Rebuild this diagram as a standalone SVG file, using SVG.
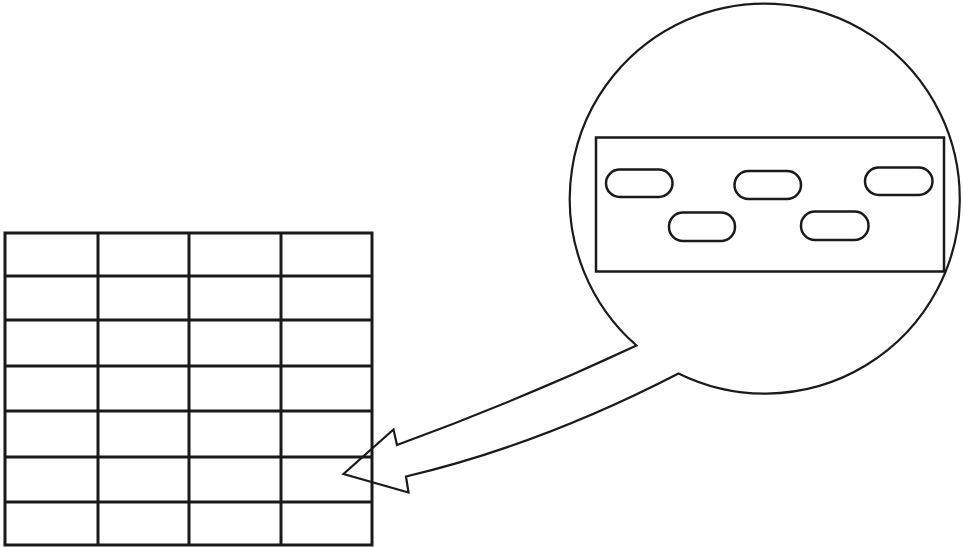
<svg xmlns="http://www.w3.org/2000/svg" width="963" height="547" viewBox="0 0 963 547">
<style>
.ln{fill:none;stroke:#1a1a1a;stroke-linejoin:miter}
.grid{stroke-width:3}
.cap{fill:none;stroke:#1a1a1a;stroke-width:2.5}
</style>
<rect width="963" height="547" fill="#fff"/>
<g id="grid" class="ln grid">
<rect x="5" y="233" width="367" height="312"/>
<path d="M98 233V545M189 233V545M281 233V545"/>
<path d="M5 276H372M5 320H372M5 366H372M5 411H372M5 457H372M5 502H372"/>
</g>
<g id="callout">
<path class="ln" stroke-width="2.2" d="M636.5 345.5 A195 195 0 1 1 678.5 373.5 Q540 445 406 476.5 L408.5 492.5 L343.5 474 L393.5 429.5 L397 445 Q520 400 636.5 345.5 Z" fill="#fff"/>
</g>
<g id="panel">
<rect class="ln" stroke-width="2.5" x="596" y="137.5" width="348" height="134"/>
<rect class="cap" x="606" y="169.5" width="66.5" height="27.5" rx="13.7"/>
<rect class="cap" x="734.5" y="171" width="66.5" height="28" rx="14"/>
<rect class="cap" x="865" y="167.5" width="67.5" height="27.5" rx="13.7"/>
<rect class="cap" x="669" y="212.5" width="66" height="28.5" rx="14"/>
<rect class="cap" x="801" y="211.5" width="67.5" height="28.5" rx="14"/>
</g>
</svg>
